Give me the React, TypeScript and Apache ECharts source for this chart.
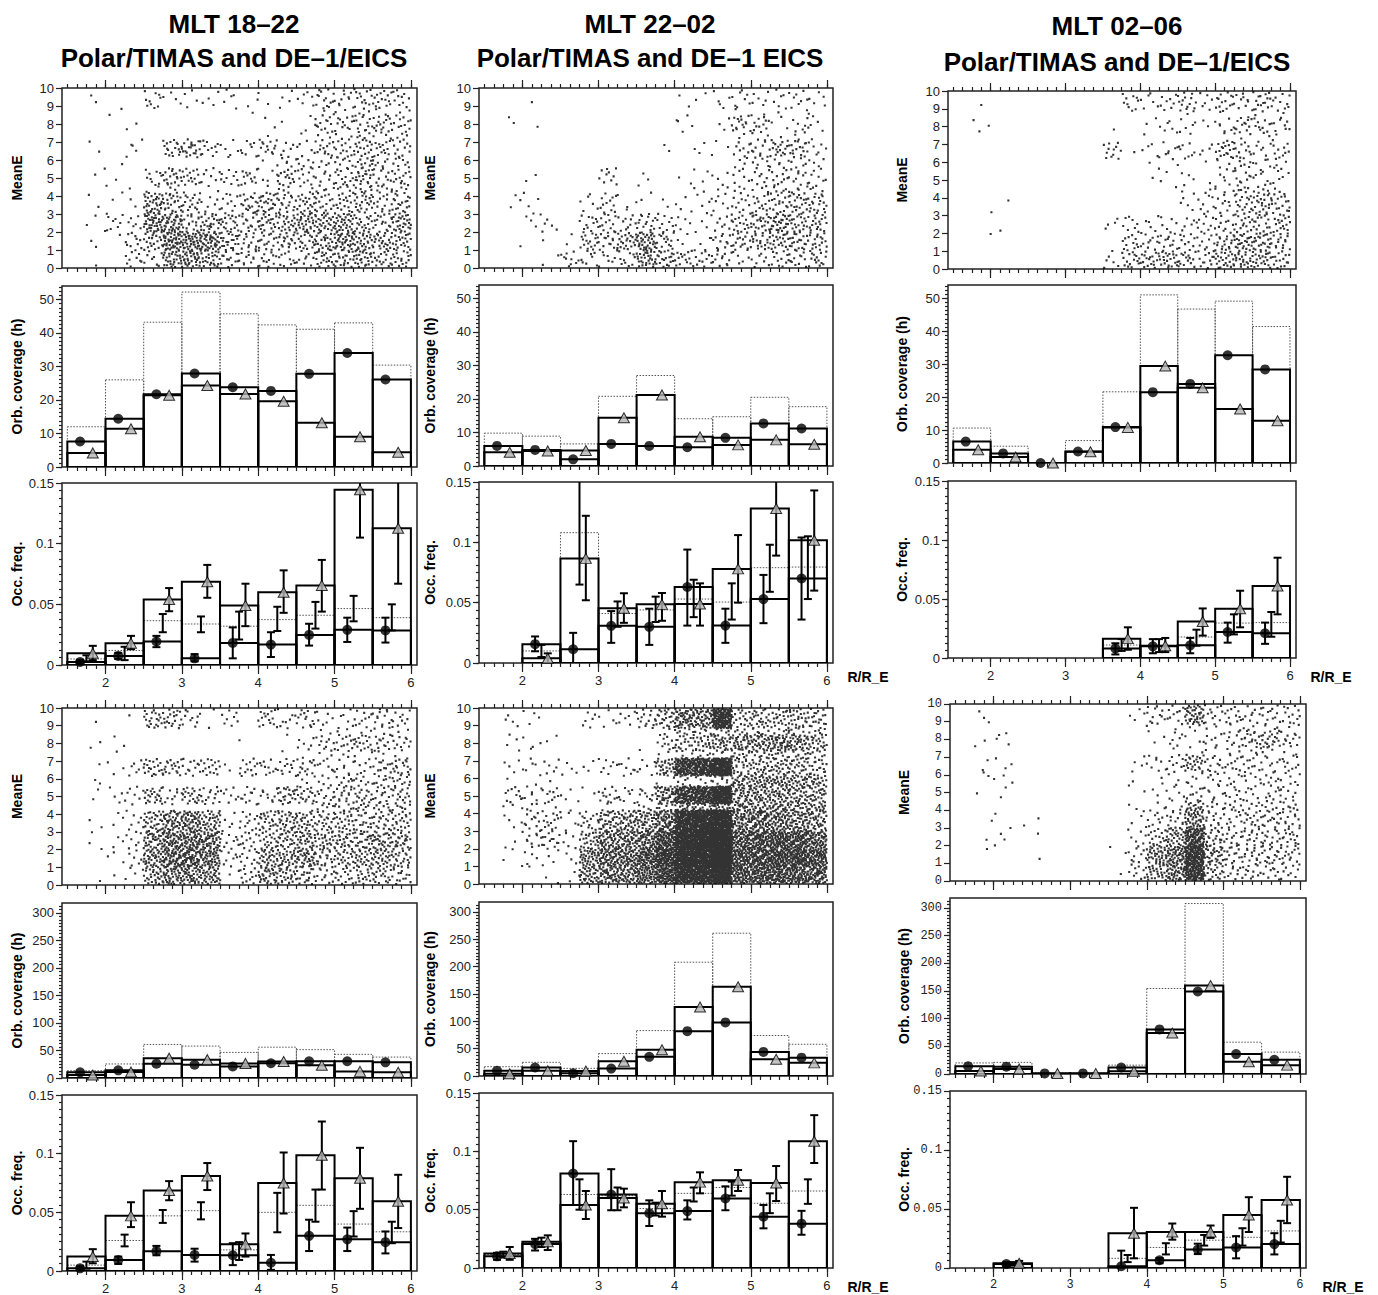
import React, { useEffect, useRef } from "react";
import * as echarts from "echarts";

const W = 1378;
const H = 1295;
const SANS = '"Liberation Sans", Arial, Helvetica, sans-serif';
const MONO = '"Liberation Mono", "Courier New", monospace';

// x range of every panel (R / R_E)
const XMIN = 1.43;
const XMAX = 6.08;
const X_LABELS = [2, 3, 4, 5, 6];
const MINOR_X = Array.from({ length: 37 }, (_, i) => 1.5 + i * 0.125);

// histogram bins
const BIN_LO = [1.5, 2, 2.5, 3, 3.5, 4, 4.5, 5, 5.5];
const BIN_W = 0.5;

// tick values
const E_TICKS = [0, 1, 2, 3, 4, 5, 6, 7, 8, 9, 10];
const ORB_TICKS_TOP = [0, 10, 20, 30, 40, 50];
const ORB_MINOR_TOP = Array.from({ length: 44 }, (_, i) => i * 1.25);
const ORB_TICKS_BOT = [0, 50, 100, 150, 200, 250, 300];
const ORB_MINOR_BOT = Array.from({ length: 51 }, (_, i) => i * 6.25);
const OCC_TICKS = [0, 0.05, 0.1, 0.15];
const OCC_MINOR = Array.from({ length: 25 }, (_, i) => i * 0.00625);

// scatter density: dots counted per cell (columns of 0.25 R_E, energy bands top -> bottom)
const COL_LO = [1.5, 1.75, 2, 2.25, 2.5, 2.75, 3, 3.25, 3.5, 3.75, 4, 4.25, 4.5, 4.75, 5, 5.25, 5.5, 5.75];
const COL_W = 0.25;
const E_BANDS = [
  [8.85, 9.95], [8.5, 8.85], [7.55, 8.5], [7.15, 7.55], [6.15, 7.15], [5.55, 6.15],
  [4.55, 5.55], [4.2, 4.55], [3, 4.2], [2, 3], [1, 2], [0.05, 1],
];

const DENS_TOP_1822 = [
  [0, 2, 0, 0, 10, 4, 4, 4, 5, 2, 2, 4, 6, 14, 10, 14, 15, 10],
  [0, 0, 2, 0, 0, 0, 0, 0, 0, 1, 0, 0, 0, 2, 2, 2, 2, 2],
  [0, 0, 0, 2, 0, 0, 0, 0, 0, 0, 2, 1, 3, 12, 12, 14, 15, 12],
  [0, 0, 0, 0, 0, 0, 0, 0, 0, 0, 1, 0, 1, 3, 3, 4, 4, 3],
  [0, 2, 0, 5, 0, 18, 22, 10, 6, 8, 14, 6, 6, 14, 12, 18, 14, 12],
  [0, 0, 1, 0, 0, 0, 0, 0, 0, 0, 1, 6, 6, 5, 8, 10, 6, 8],
  [0, 2, 2, 0, 10, 20, 15, 8, 10, 12, 6, 15, 10, 8, 14, 22, 12, 14],
  [0, 0, 0, 1, 2, 2, 0, 1, 0, 0, 0, 3, 3, 4, 4, 6, 4, 4],
  [0, 2, 3, 2, 35, 25, 18, 8, 10, 20, 25, 18, 22, 18, 18, 22, 16, 20],
  [0, 3, 8, 6, 40, 35, 18, 22, 18, 14, 20, 22, 30, 25, 32, 18, 16, 28],
  [0, 2, 1, 10, 20, 45, 45, 40, 22, 14, 15, 20, 18, 25, 35, 28, 22, 22],
  [0, 1, 0, 10, 8, 30, 35, 25, 14, 12, 12, 10, 10, 20, 22, 25, 16, 18],
];
const DENS_TOP_2202 = [
  [0, 0, 1, 0, 0, 0, 0, 0, 0, 0, 2, 2, 5, 8, 6, 6, 8, 5],
  [0, 0, 0, 0, 0, 0, 0, 0, 0, 0, 0, 0, 0, 1, 1, 1, 1, 1],
  [0, 2, 1, 0, 0, 0, 0, 0, 0, 0, 5, 0, 3, 15, 12, 3, 6, 5],
  [0, 0, 0, 0, 0, 0, 0, 0, 0, 0, 0, 0, 0, 2, 2, 1, 2, 1],
  [0, 0, 0, 0, 0, 0, 0, 0, 0, 2, 0, 4, 2, 8, 12, 18, 18, 6],
  [0, 0, 0, 0, 0, 0, 0, 0, 0, 0, 0, 0, 0, 4, 6, 6, 5, 4],
  [0, 0, 2, 0, 0, 0, 10, 0, 3, 0, 2, 4, 3, 6, 10, 10, 10, 8],
  [0, 0, 0, 0, 0, 0, 0, 0, 0, 0, 0, 2, 2, 3, 3, 4, 4, 3],
  [0, 3, 4, 0, 0, 6, 12, 4, 2, 3, 4, 5, 6, 12, 14, 18, 22, 20],
  [0, 0, 4, 5, 0, 12, 12, 10, 15, 10, 5, 3, 8, 15, 22, 28, 20, 18],
  [0, 1, 0, 1, 2, 18, 15, 22, 35, 15, 3, 5, 12, 15, 20, 22, 20, 18],
  [0, 0, 0, 2, 10, 8, 8, 10, 30, 20, 15, 12, 12, 6, 8, 12, 12, 15],
];
const DENS_TOP_0206 = [
  [0, 1, 0, 0, 0, 0, 0, 0, 0, 10, 6, 8, 15, 6, 14, 10, 16, 10],
  [0, 0, 0, 0, 0, 0, 0, 0, 0, 0, 0, 0, 1, 0, 1, 1, 1, 1],
  [0, 3, 0, 0, 0, 0, 0, 0, 1, 0, 3, 6, 6, 2, 8, 14, 10, 10],
  [0, 0, 0, 0, 0, 0, 0, 0, 0, 0, 0, 0, 0, 0, 1, 1, 1, 1],
  [0, 0, 0, 0, 0, 0, 0, 0, 12, 1, 4, 8, 8, 4, 18, 12, 8, 10],
  [0, 0, 0, 0, 0, 0, 0, 0, 0, 0, 2, 0, 1, 1, 4, 6, 5, 4],
  [0, 0, 0, 0, 0, 0, 0, 0, 0, 0, 1, 3, 4, 1, 6, 10, 8, 5],
  [0, 0, 0, 0, 0, 0, 0, 0, 0, 0, 0, 0, 2, 2, 3, 5, 5, 3],
  [0, 0, 2, 0, 0, 0, 0, 0, 0, 0, 0, 0, 4, 8, 10, 18, 22, 18],
  [0, 0, 1, 0, 0, 0, 0, 0, 4, 8, 6, 6, 5, 10, 10, 15, 15, 15],
  [0, 0, 1, 0, 0, 0, 0, 0, 1, 12, 10, 12, 10, 10, 18, 25, 22, 15],
  [0, 0, 0, 0, 0, 0, 0, 0, 5, 15, 18, 22, 15, 12, 22, 22, 22, 15],
];
const DENS_BOT_1822 = [
  [0, 1, 0, 1, 20, 20, 10, 2, 8, 0, 15, 8, 14, 6, 6, 10, 14, 10],
  [0, 0, 0, 0, 0, 0, 0, 0, 0, 0, 0, 0, 0, 2, 2, 2, 2, 2],
  [0, 2, 2, 0, 0, 0, 0, 0, 0, 1, 0, 2, 6, 10, 14, 16, 12, 12],
  [0, 0, 1, 0, 0, 0, 0, 0, 0, 0, 0, 0, 1, 2, 2, 2, 2, 2],
  [0, 1, 3, 6, 20, 18, 12, 16, 2, 14, 10, 12, 14, 8, 8, 8, 14, 18],
  [0, 2, 0, 0, 0, 0, 0, 0, 0, 0, 0, 0, 4, 4, 8, 8, 8, 10],
  [0, 2, 4, 8, 22, 10, 20, 14, 8, 10, 10, 22, 18, 12, 16, 16, 14, 16],
  [0, 0, 0, 0, 0, 0, 0, 0, 0, 0, 0, 0, 0, 4, 6, 6, 6, 6],
  [0, 2, 3, 8, 30, 45, 50, 35, 6, 12, 25, 30, 28, 22, 25, 20, 20, 22],
  [0, 3, 3, 6, 35, 50, 55, 45, 10, 12, 18, 25, 30, 25, 24, 25, 28, 26],
  [0, 0, 3, 6, 40, 55, 55, 50, 8, 10, 30, 30, 35, 20, 22, 25, 28, 22],
  [0, 1, 1, 4, 25, 40, 40, 35, 3, 12, 30, 25, 18, 12, 15, 18, 18, 14],
];
const DENS_BOT_2202 = [
  [0, 4, 4, 0, 0, 6, 5, 6, 15, 25, 50, 45, 140, 20, 25, 22, 25, 20],
  [0, 0, 0, 0, 0, 0, 0, 0, 0, 2, 6, 6, 6, 5, 5, 5, 5, 5],
  [0, 4, 4, 2, 0, 0, 0, 0, 1, 10, 20, 25, 30, 35, 35, 40, 35, 25],
  [0, 0, 0, 0, 0, 0, 0, 0, 0, 2, 4, 4, 4, 8, 8, 8, 8, 6],
  [0, 4, 6, 6, 4, 3, 8, 8, 6, 30, 100, 120, 200, 22, 25, 25, 25, 20],
  [0, 1, 1, 1, 0, 0, 0, 0, 0, 2, 6, 6, 8, 22, 24, 24, 22, 18],
  [0, 10, 8, 10, 4, 2, 14, 8, 10, 40, 90, 110, 180, 35, 35, 35, 32, 28],
  [0, 3, 2, 1, 0, 0, 0, 0, 3, 6, 10, 10, 12, 14, 14, 14, 12, 12],
  [0, 4, 12, 15, 6, 15, 35, 40, 45, 60, 160, 190, 250, 60, 60, 55, 50, 40],
  [0, 2, 10, 14, 5, 25, 45, 45, 55, 90, 180, 200, 260, 70, 70, 80, 75, 60],
  [0, 3, 4, 4, 3, 40, 55, 55, 70, 110, 190, 200, 260, 80, 80, 90, 85, 75],
  [0, 0, 1, 2, 3, 35, 45, 45, 60, 90, 150, 160, 200, 70, 70, 75, 70, 60],
];
const DENS_BOT_0206 = [
  [0, 3, 0, 0, 0, 0, 0, 0, 0, 4, 12, 10, 40, 12, 12, 10, 12, 12],
  [0, 0, 0, 0, 0, 0, 0, 0, 0, 0, 1, 1, 2, 2, 2, 3, 3, 2],
  [0, 2, 4, 0, 0, 0, 0, 0, 0, 0, 3, 6, 5, 6, 10, 18, 20, 12],
  [0, 0, 0, 0, 0, 0, 0, 0, 0, 0, 0, 1, 1, 2, 3, 3, 3, 2],
  [0, 2, 3, 0, 0, 0, 0, 0, 0, 4, 8, 10, 25, 12, 10, 12, 8, 10],
  [0, 2, 3, 0, 0, 0, 0, 0, 0, 1, 1, 2, 4, 5, 5, 5, 6, 5],
  [0, 1, 2, 0, 0, 0, 0, 0, 0, 2, 3, 6, 10, 8, 10, 8, 10, 8],
  [0, 0, 0, 0, 0, 0, 0, 0, 0, 1, 1, 2, 8, 3, 4, 4, 4, 4],
  [0, 1, 1, 1, 1, 0, 0, 0, 0, 5, 10, 15, 45, 15, 14, 16, 18, 16],
  [0, 1, 4, 0, 1, 0, 0, 0, 0, 6, 15, 30, 90, 20, 12, 15, 14, 16],
  [0, 1, 0, 0, 1, 0, 0, 0, 2, 10, 35, 50, 130, 30, 15, 15, 16, 15],
  [0, 0, 0, 0, 0, 0, 0, 0, 1, 10, 30, 45, 110, 20, 12, 12, 10, 10],
];

// Orbital coverage (h): filled circles, open triangles, dotted total
const ORB_TOP_1822_DOT = [7.6, 14.4, 21.7, 27.9, 23.8, 22.7, 27.8, 34.0, 26.1];
const ORB_TOP_1822_TRI = [4.2, 11.4, 21.4, 24.3, 21.8, 19.6, 13.2, 9.0, 4.4];
const ORB_TOP_1822_ALL = [12.0, 26.0, 43.2, 52.2, 45.7, 42.4, 41.1, 43.0, 30.4];
const ORB_TOP_2202_DOT = [6.0, 4.8, 2.0, 6.6, 6.0, 5.6, 8.4, 12.7, 11.2];
const ORB_TOP_2202_TRI = [4.1, 4.5, 4.6, 14.4, 21.2, 8.7, 6.3, 7.8, 6.5];
const ORB_TOP_2202_ALL = [9.8, 8.9, 6.6, 20.8, 27.0, 14.1, 14.7, 20.5, 17.7];
const ORB_TOP_0206_DOT = [6.5, 2.9, 0, 3.5, 10.9, 21.5, 24.0, 32.7, 28.4];
const ORB_TOP_0206_TRI = [4.0, 1.8, 0, 3.4, 10.8, 29.4, 22.8, 16.4, 12.8];
const ORB_TOP_0206_ALL = [10.6, 5.1, 0, 6.8, 21.6, 51.0, 46.7, 49.1, 41.4];
const ORB_BOT_1822_DOT = [10.3, 14.0, 26.0, 24.0, 21.0, 26.8, 30.3, 30.5, 28.5];
const ORB_BOT_1822_TRI = [5.5, 11.0, 36.0, 33.3, 26.5, 30.0, 23.0, 12.0, 10.5];
const ORB_BOT_1822_ALL = [13.3, 25.5, 61.0, 58.0, 46.5, 56.0, 51.5, 43.0, 38.0];
const ORB_BOT_2202_DOT = [9.5, 15.5, 5.0, 13.5, 35.0, 82.0, 98.0, 44.0, 33.5];
const ORB_BOT_2202_TRI = [4.0, 9.5, 9.0, 27.0, 48.0, 126.0, 163.0, 30.5, 24.0];
const ORB_BOT_2202_ALL = [17.0, 25.0, 14.0, 41.0, 83.0, 208.0, 261.0, 74.0, 58.0];
const ORB_BOT_0206_DOT = [13.9, 13.2, 1.0, 1.0, 11.8, 80.5, 149.0, 36.0, 25.6];
const ORB_BOT_0206_TRI = [5.5, 9.0, 1.0, 1.0, 5.0, 74.0, 160.0, 22.0, 16.0];
const ORB_BOT_0206_ALL = [20.0, 21.0, 2.0, 2.0, 16.0, 154.5, 308.0, 57.5, 39.5];

// Occurrence frequency with error ranges [low, high]
const OCC_TOP_1822_DOT = [0.0025, 0.0075, 0.0194, 0.0055, 0.0182, 0.0168, 0.0248, 0.029, 0.0285];
const OCC_TOP_1822_DOT_ERR = [[0.001, 0.004], [0.005, 0.01], [0.0147, 0.024], [0.003, 0.009], [0.0055, 0.031], [0.0066, 0.027], [0.016, 0.034], [0.019, 0.039], [0.0185, 0.039]];
const OCC_TOP_1822_TRI = [0.0097, 0.018, 0.054, 0.0686, 0.049, 0.06, 0.0656, 0.1445, 0.1127];
const OCC_TOP_1822_TRI_ERR = [[0.004, 0.0158], [0.013, 0.024], [0.0443, 0.0634], [0.0554, 0.0825], [0.032, 0.067], [0.043, 0.078], [0.044, 0.0866], [0.105, 0.16], [0.067, 0.16]];
const OCC_TOP_1822_ALL = [0.005, 0.012, 0.0365, 0.0338, 0.032, 0.0374, 0.041, 0.0465, 0.039];
const OCC_TOP_1822_ALL_ERR = [[0.003, 0.008], [0.004, 0.015], [0.027, 0.042], [0.027, 0.04], [0.021, 0.044], [0.028, 0.048], [0.03, 0.052], [0.036, 0.057], [0.0285, 0.05]];

const OCC_TOP_2202_DOT = [null, 0.0156, 0.0114, 0.0308, 0.03, 0.063, 0.031, 0.053, 0.07];
const OCC_TOP_2202_DOT_ERR = [null, [0.0097, 0.022], [0, 0.025], [0.0167, 0.043], [0.015, 0.045], [0.031, 0.094], [0.0167, 0.045], [0.033, 0.073], [0.036, 0.104]];
const OCC_TOP_2202_TRI = [null, 0.004, 0.0867, 0.0453, 0.0486, 0.0489, 0.078, 0.128, 0.1017];
const OCC_TOP_2202_TRI_ERR = [null, [0, 0.008], [0.052, 0.122], [0.0333, 0.0578], [0.035, 0.058], [0.031, 0.066], [0.05, 0.106], [0.089, 0.16], [0.06, 0.143]];
const OCC_TOP_2202_ALL = [null, 0.01, 0.108, 0.041, 0.044, 0.053, 0.0505, 0.079, 0.0795];
const OCC_TOP_2202_ALL_ERR = [null, [0.005, 0.015], [0.065, 0.16], [0.03, 0.051], [0.034, 0.055], [0.038, 0.069], [0.036, 0.066], [0.059, 0.098], [0.053, 0.105]];

const OCC_TOP_0206_DOT = [null, null, null, null, 0.008, 0.0099, 0.0107, 0.022, 0.021];
const OCC_TOP_0206_DOT_ERR = [null, null, null, null, [0.003, 0.0125], [0.004, 0.016], [0.004, 0.017], [0.013, 0.03], [0.012, 0.03]];
const OCC_TOP_0206_TRI = [null, null, null, null, 0.0164, 0.0104, 0.031, 0.0417, 0.061];
const OCC_TOP_0206_TRI_ERR = [null, null, null, null, [0.007, 0.026], [0.005, 0.017], [0.019, 0.042], [0.026, 0.057], [0.037, 0.085]];
const OCC_TOP_0206_ALL = [null, null, null, null, 0.011, 0.0107, 0.0178, 0.0296, 0.03];
const OCC_TOP_0206_ALL_ERR = [null, null, null, null, [0.006, 0.016], [0.005, 0.016], [0.0104, 0.024], [0.02, 0.037], [0.018, 0.039]];

const OCC_BOT_1822_DOT = [0.0023, 0.0094, 0.0169, 0.0137, 0.0134, 0.007, 0.03, 0.027, 0.0246];
const OCC_BOT_1822_DOT_ERR = [[0.0005, 0.004], [0.006, 0.0123], [0.0134, 0.0214], [0.008, 0.019], [0.005, 0.0237], [0.001, 0.0137], [0.017, 0.0437], [0.017, 0.037], [0.015, 0.0337]];
const OCC_BOT_1822_TRI = [0.0123, 0.047, 0.0686, 0.0809, 0.0229, 0.075, 0.0986, 0.079, 0.0594];
const OCC_BOT_1822_TRI_ERR = [[0.0066, 0.0186], [0.0374, 0.0586], [0.0603, 0.0766], [0.069, 0.092], [0.0123, 0.032], [0.049, 0.101], [0.0694, 0.1274], [0.053, 0.105], [0.0366, 0.082]];
const OCC_BOT_1822_ALL = [0.005, 0.026, 0.047, 0.0514, 0.018, 0.05, 0.056, 0.04, 0.0334];
const OCC_BOT_1822_ALL_ERR = [[0.002, 0.008], [0.021, 0.031], [0.041, 0.052], [0.044, 0.0586], [0.0094, 0.0246], [0.033, 0.0666], [0.042, 0.0694], [0.0294, 0.051], [0.0237, 0.042]];

const OCC_BOT_2202_DOT = [0.01, 0.0205, 0.081, 0.063, 0.047, 0.0488, 0.0596, 0.044, 0.038];
const OCC_BOT_2202_DOT_ERR = [[0.007, 0.013], [0.015, 0.025], [0.054, 0.1087], [0.0495, 0.0847], [0.036, 0.058], [0.0416, 0.058], [0.0495, 0.07], [0.034, 0.054], [0.0285, 0.049]];
const OCC_BOT_2202_TRI = [0.0125, 0.0225, 0.054, 0.06, 0.055, 0.0736, 0.0753, 0.0728, 0.1087];
const OCC_BOT_2202_TRI_ERR = [[0.007, 0.018], [0.0154, 0.028], [0.042, 0.066], [0.052, 0.068], [0.044, 0.066], [0.064, 0.082], [0.066, 0.084], [0.0574, 0.0874], [0.09, 0.131]];
const OCC_BOT_2202_ALL = [0.0115, 0.022, 0.063, 0.062, 0.051, 0.064, 0.069, 0.0555, 0.066];
const OCC_BOT_2202_ALL_ERR = [[0.009, 0.014], [0.018, 0.026], [0.05, 0.076], [0.0495, 0.069], [0.045, 0.056], [0.057, 0.069], [0.062, 0.074], [0.047, 0.064], [0.055, 0.076]];

const OCC_BOT_0206_DOT = [null, 0.0033, null, null, 0.0015, 0.0066, 0.0157, 0.0174, 0.0203];
const OCC_BOT_0206_DOT_ERR = [null, [0.0015, 0.005], null, null, [0, 0.0147], [0.004, 0.0085], [0.0118, 0.0206], [0.0082, 0.027], [0.0115, 0.0295]];
const OCC_BOT_0206_TRI = [null, 0.004, null, null, 0.0295, 0.0305, 0.0305, 0.045, 0.0576];
const OCC_BOT_0206_TRI_ERR = [null, [0.0015, 0.006], null, null, [0.0082, 0.051], [0.024, 0.0377], [0.0255, 0.036], [0.0305, 0.06], [0.038, 0.0773]];
const OCC_BOT_0206_ALL = [null, 0.0036, null, null, 0.0082, 0.0174, 0.0236, 0.026, 0.0314];
const OCC_BOT_0206_ALL_ERR = [null, [0.002, 0.005], null, null, [0.005, 0.011], [0.0115, 0.021], [0.019, 0.028], [0.019, 0.0337], [0.0216, 0.04]];

type Bars = { dot: (number | null)[]; tri: (number | null)[]; all: (number | null)[] };
type Errs = { dot: any[]; tri: any[]; all: any[] };

interface Block {
  left: number;
  right: number;
  nameX: number;
  sc: [number, number];
  orb: [number, number];
  occ: [number, number];
  orbMax: number;
  orbMajor: number[];
  orbMinor: number[];
  mono: boolean;
  dens: number[][];
  orbBars: Bars;
  occBars: Bars;
  occErrs: Errs;
}

const BLOCKS: Block[] = [
  {
    left: 62, right: 417, nameX: 17, sc: [88, 268], orb: [286, 467], occ: [483, 665],
    orbMax: 54, orbMajor: ORB_TICKS_TOP, orbMinor: ORB_MINOR_TOP, mono: false, dens: DENS_TOP_1822,
    orbBars: { dot: ORB_TOP_1822_DOT, tri: ORB_TOP_1822_TRI, all: ORB_TOP_1822_ALL },
    occBars: { dot: OCC_TOP_1822_DOT, tri: OCC_TOP_1822_TRI, all: OCC_TOP_1822_ALL },
    occErrs: { dot: OCC_TOP_1822_DOT_ERR, tri: OCC_TOP_1822_TRI_ERR, all: OCC_TOP_1822_ALL_ERR },
  },
  {
    left: 479, right: 833, nameX: 430, sc: [88, 268], orb: [285, 466], occ: [482, 663],
    orbMax: 54, orbMajor: ORB_TICKS_TOP, orbMinor: ORB_MINOR_TOP, mono: false, dens: DENS_TOP_2202,
    orbBars: { dot: ORB_TOP_2202_DOT, tri: ORB_TOP_2202_TRI, all: ORB_TOP_2202_ALL },
    occBars: { dot: OCC_TOP_2202_DOT, tri: OCC_TOP_2202_TRI, all: OCC_TOP_2202_ALL },
    occErrs: { dot: OCC_TOP_2202_DOT_ERR, tri: OCC_TOP_2202_TRI_ERR, all: OCC_TOP_2202_ALL_ERR },
  },
  {
    left: 948, right: 1296, nameX: 902, sc: [91, 269], orb: [285, 463], occ: [481, 658],
    orbMax: 54, orbMajor: ORB_TICKS_TOP, orbMinor: ORB_MINOR_TOP, mono: false, dens: DENS_TOP_0206,
    orbBars: { dot: ORB_TOP_0206_DOT, tri: ORB_TOP_0206_TRI, all: ORB_TOP_0206_ALL },
    occBars: { dot: OCC_TOP_0206_DOT, tri: OCC_TOP_0206_TRI, all: OCC_TOP_0206_ALL },
    occErrs: { dot: OCC_TOP_0206_DOT_ERR, tri: OCC_TOP_0206_TRI_ERR, all: OCC_TOP_0206_ALL_ERR },
  },
  {
    left: 62, right: 417, nameX: 17, sc: [708, 885], orb: [903, 1078], occ: [1095, 1271],
    orbMax: 318, orbMajor: ORB_TICKS_BOT, orbMinor: ORB_MINOR_BOT, mono: false, dens: DENS_BOT_1822,
    orbBars: { dot: ORB_BOT_1822_DOT, tri: ORB_BOT_1822_TRI, all: ORB_BOT_1822_ALL },
    occBars: { dot: OCC_BOT_1822_DOT, tri: OCC_BOT_1822_TRI, all: OCC_BOT_1822_ALL },
    occErrs: { dot: OCC_BOT_1822_DOT_ERR, tri: OCC_BOT_1822_TRI_ERR, all: OCC_BOT_1822_ALL_ERR },
  },
  {
    left: 479, right: 833, nameX: 430, sc: [708, 884], orb: [902, 1076], occ: [1093, 1268],
    orbMax: 318, orbMajor: ORB_TICKS_BOT, orbMinor: ORB_MINOR_BOT, mono: false, dens: DENS_BOT_2202,
    orbBars: { dot: ORB_BOT_2202_DOT, tri: ORB_BOT_2202_TRI, all: ORB_BOT_2202_ALL },
    occBars: { dot: OCC_BOT_2202_DOT, tri: OCC_BOT_2202_TRI, all: OCC_BOT_2202_ALL },
    occErrs: { dot: OCC_BOT_2202_DOT_ERR, tri: OCC_BOT_2202_TRI_ERR, all: OCC_BOT_2202_ALL_ERR },
  },
  {
    left: 950, right: 1306, nameX: 904, sc: [704, 881], orb: [898, 1074], occ: [1091, 1268],
    orbMax: 318, orbMajor: ORB_TICKS_BOT, orbMinor: ORB_MINOR_BOT, mono: true, dens: DENS_BOT_0206,
    orbBars: { dot: ORB_BOT_0206_DOT, tri: ORB_BOT_0206_TRI, all: ORB_BOT_0206_ALL },
    occBars: { dot: OCC_BOT_0206_DOT, tri: OCC_BOT_0206_TRI, all: OCC_BOT_0206_ALL },
    occErrs: { dot: OCC_BOT_0206_DOT_ERR, tri: OCC_BOT_0206_TRI_ERR, all: OCC_BOT_0206_ALL_ERR },
  },
];

const TITLES = [
  { x: 234, y: [24, 58], lines: ["MLT 18–22", "Polar/TIMAS and DE–1/EICS"] },
  { x: 650, y: [24, 58], lines: ["MLT 22–02", "Polar/TIMAS and DE–1 EICS"] },
  { x: 1117, y: [26, 62], lines: ["MLT 02–06", "Polar/TIMAS and DE–1/EICS"] },
];
const RRE_LABELS = [
  [868, 677], [1331, 677], [868, 1287], [1343, 1287],
];

// low-discrepancy spread of the counted dots inside their cell
function halton(i: number, b: number) {
  let f = 1;
  let r = 0;
  while (i > 0) {
    f /= b;
    r += f * (i % b);
    i = Math.floor(i / b);
  }
  return r;
}

function densityToPoints(dens: number[][]) {
  const pts: number[][] = [];
  let k = 1;
  dens.forEach((row, ri) => {
    const [e0, e1] = E_BANDS[ri];
    row.forEach((n, ci) => {
      for (let j = 0; j < n; j++, k++) {
        pts.push([COL_LO[ci] + COL_W * halton(k, 2), e0 + (e1 - e0) * halton(k, 3)]);
      }
    });
  });
  return pts;
}

const renderBox = (dash: boolean) => (params: any, api: any) => {
  const p0 = api.coord([api.value(0), 0]);
  const p1 = api.coord([api.value(1), api.value(2)]);
  return {
    type: "rect",
    shape: { x: p0[0], y: p1[1], width: p1[0] - p0[0], height: p0[1] - p1[1] },
    style: dash
      ? { fill: "none", stroke: "#555", lineWidth: 1, lineDash: [1.5, 1.5] }
      : { fill: "none", stroke: "#000", lineWidth: 2 },
  };
};

const renderErr = (params: any, api: any) => {
  const a = api.coord([api.value(0), api.value(1)]);
  const b = api.coord([api.value(0), api.value(2)]);
  const cw = 4;
  const st = { stroke: "#000", lineWidth: 2 };
  return {
    type: "group",
    children: [
      { type: "line", shape: { x1: a[0], y1: a[1], x2: b[0], y2: b[1] }, style: st },
      { type: "line", shape: { x1: a[0] - cw, y1: a[1], x2: a[0] + cw, y2: a[1] }, style: st },
      { type: "line", shape: { x1: b[0] - cw, y1: b[1], x2: b[0] + cw, y2: b[1] }, style: st },
    ],
  };
};

function buildOption() {
  const grid: any[] = [];
  const xAxis: any[] = [];
  const yAxis: any[] = [];
  const series: any[] = [];
  const graphic: any[] = [];
  const tickLine = { color: "#222", width: 1.2 };

  const addGrid = (
    l: number, r: number, t: number, b: number,
    o: { yMax: number; yMajor: number[]; yMinor?: number[]; top?: boolean; xLabels?: boolean; mono: boolean }
  ) => {
    const gi = grid.length;
    grid.push({
      left: l, top: t, width: r - l, height: b - t, show: true,
      borderColor: "#222", borderWidth: 1.5, backgroundColor: "transparent", containLabel: false,
    });
    const lab = { color: "#222", fontSize: o.mono ? 12 : 13, fontFamily: o.mono ? MONO : SANS };
    const baseX = {
      gridIndex: gi, type: "value", min: XMIN, max: XMAX,
      axisLine: { show: false }, splitLine: { show: false },
    };
    const xi = xAxis.length;
    xAxis.push({
      ...baseX, position: "bottom",
      axisTick: { show: true, customValues: X_LABELS, length: 9, lineStyle: tickLine },
      axisLabel: { show: !!o.xLabels, customValues: X_LABELS, margin: 11, ...lab },
    });
    xAxis.push({
      ...baseX, position: "bottom",
      axisTick: { show: true, customValues: MINOR_X, length: 4, lineStyle: tickLine },
      axisLabel: { show: false },
    });
    if (o.top) {
      xAxis.push({
        ...baseX, position: "top",
        axisTick: { show: true, customValues: X_LABELS, length: 8, lineStyle: tickLine },
        axisLabel: { show: false },
      });
      xAxis.push({
        ...baseX, position: "top",
        axisTick: { show: true, customValues: MINOR_X, length: 4, lineStyle: tickLine },
        axisLabel: { show: false },
      });
    }
    const yi = yAxis.length;
    const baseY = {
      gridIndex: gi, type: "value", min: 0, max: o.yMax, position: "left",
      axisLine: { show: false }, splitLine: { show: false },
    };
    yAxis.push({
      ...baseY,
      axisTick: { show: true, customValues: o.yMajor, length: 6, lineStyle: tickLine },
      axisLabel: { show: true, customValues: o.yMajor, margin: 8, ...lab },
    });
    if (o.yMinor) {
      yAxis.push({
        ...baseY,
        axisTick: { show: true, customValues: o.yMinor, length: 3, lineStyle: tickLine },
        axisLabel: { show: false },
      });
    }
    return { xi, yi };
  };

  const addBars = (ax: { xi: number; yi: number }, bars: Bars, errs?: Errs) => {
    const boxData = (vals: (number | null)[]) =>
      BIN_LO.map((lo, i) => [lo, lo + BIN_W, vals[i]]).filter((d) => d[2] !== null);
    const common = { xAxisIndex: ax.xi, yAxisIndex: ax.yi, silent: true, clip: true };
    series.push({ type: "custom", ...common, z: 2, renderItem: renderBox(true), data: boxData(bars.all), encode: { x: [0, 1], y: 2 } });
    series.push({ type: "custom", ...common, z: 3, renderItem: renderBox(false), data: boxData(bars.tri), encode: { x: [0, 1], y: 2 } });
    series.push({ type: "custom", ...common, z: 3, renderItem: renderBox(false), data: boxData(bars.dot), encode: { x: [0, 1], y: 2 } });
    if (errs) {
      const errData = (list: any[], off: number) =>
        BIN_LO.map((lo, i) => (list[i] ? [lo + off, list[i][0], list[i][1]] : null)).filter((d) => d);
      const ed = [
        ...errData(errs.dot, BIN_W / 3),
        ...errData(errs.all, BIN_W / 2),
        ...errData(errs.tri, (2 * BIN_W) / 3),
      ];
      series.push({ type: "custom", ...common, z: 4, renderItem: renderErr, data: ed, encode: { x: 0, y: [1, 2] } });
    }
    const mk = (vals: (number | null)[], off: number) =>
      BIN_LO.map((lo, i) => (vals[i] === null ? null : [lo + off, vals[i]])).filter((d) => d);
    series.push({
      type: "scatter", ...common, z: 5, symbol: "circle", symbolSize: 10,
      itemStyle: { color: "#000" }, data: mk(bars.dot, BIN_W / 3),
    });
    series.push({
      type: "scatter", ...common, z: 5, symbol: "triangle", symbolSize: [11, 10],
      itemStyle: { color: "#b4b4b4", borderColor: "#000", borderWidth: 1 }, data: mk(bars.tri, (2 * BIN_W) / 3),
    });
  };

  const axisName = (text: string, x: number, y: number) => {
    graphic.push({
      type: "text", x, y, rotation: Math.PI / 2, silent: true,
      style: {
        text, fill: "#000", font: `bold 14px ${SANS}`,
        textAlign: "center", textVerticalAlign: "middle", align: "center", verticalAlign: "middle",
      },
    });
  };

  BLOCKS.forEach((bk) => {
    const sc = addGrid(bk.left, bk.right, bk.sc[0], bk.sc[1], {
      yMax: 10, yMajor: E_TICKS, top: true, mono: bk.mono,
    });
    series.push({
      type: "scatter", xAxisIndex: sc.xi, yAxisIndex: sc.yi, silent: true,
      symbol: "rect", symbolSize: 2.1, itemStyle: { color: "#000" },
      large: true, largeThreshold: 200, data: densityToPoints(bk.dens),
    });
    const orb = addGrid(bk.left, bk.right, bk.orb[0], bk.orb[1], {
      yMax: bk.orbMax, yMajor: bk.orbMajor, yMinor: bk.orbMinor, mono: bk.mono,
    });
    addBars(orb, bk.orbBars);
    const occ = addGrid(bk.left, bk.right, bk.occ[0], bk.occ[1], {
      yMax: 0.15, yMajor: OCC_TICKS, yMinor: OCC_MINOR, xLabels: true, mono: bk.mono,
    });
    addBars(occ, bk.occBars, bk.occErrs);

    axisName("MeanE", bk.nameX, (bk.sc[0] + bk.sc[1]) / 2);
    axisName("Orb. coverage (h)", bk.nameX, (bk.orb[0] + bk.orb[1]) / 2);
    axisName("Occ. freq.", bk.nameX, (bk.occ[0] + bk.occ[1]) / 2);
  });

  TITLES.forEach((t) => {
    t.lines.forEach((line, i) => {
      graphic.push({
        type: "text", x: t.x, y: t.y[i], silent: true,
        style: {
          text: line, fill: "#000", font: `bold 26px ${SANS}`,
          textAlign: "center", textVerticalAlign: "middle", align: "center", verticalAlign: "middle",
        },
      });
    });
  });
  RRE_LABELS.forEach(([x, y]) => {
    graphic.push({
      type: "text", x, y, silent: true,
      style: {
        text: "R/R_E", fill: "#000", font: `bold 14px ${SANS}`,
        textAlign: "center", textVerticalAlign: "middle", align: "center", verticalAlign: "middle",
      },
    });
  });

  return {
    animation: false,
    backgroundColor: "#fff",
    grid,
    xAxis,
    yAxis,
    series,
    graphic,
  };
}

export default function App() {
  const ref = useRef<HTMLDivElement>(null);
  useEffect(() => {
    if (!ref.current) return;
    const chart = echarts.init(ref.current, undefined, { renderer: "svg", width: W, height: H });
    chart.setOption(buildOption() as any);
    return () => chart.dispose();
  }, []);
  return (
    <div
      ref={ref}
      style={{ position: "absolute", left: 0, top: 0, width: W, height: H, background: "#fff" }}
    />
  );
}
